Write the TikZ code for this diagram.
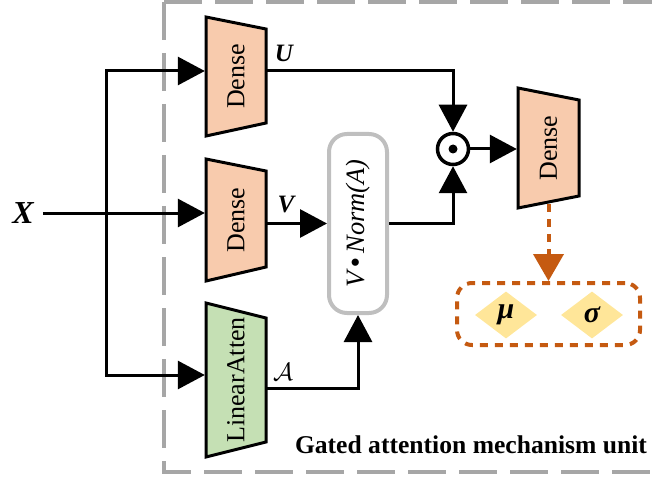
\documentclass[tikz,border=0pt]{standalone}
\usepackage{graphicx}
\usepackage{fontspec}
\setmainfont{Liberation Serif}
\usetikzlibrary{arrows.meta,shapes.geometric,calc}
\definecolor{peach}{HTML}{F8CBAD}
\definecolor{lgreen}{HTML}{C5E0B4}
\definecolor{gold}{HTML}{FFE699}
\definecolor{rust}{HTML}{C55A11}
\definecolor{dgray}{HTML}{A6A6A6}
\definecolor{lgray}{HTML}{BFBFBF}
\begin{document}
\begin{tikzpicture}[x=1pt,y=-1pt,
  conn/.style={line width=3pt, draw=black},
  arr/.style={conn, -{Triangle[length=27pt,width=28pt]}},
  trapbox/.style={line width=3pt, line join=miter, draw=black},
  txtnode/.style={inner sep=0pt, minimum width=62pt, font=\fontsize{26}{27}\selectfont},
  lbl/.style={inner sep=0pt, font=\fontsize{25}{25}\selectfont\bfseries\itshape},
  diam/.style={diamond, fill=gold, inner sep=0pt, minimum width=62pt, minimum height=47pt, aspect=1.32, font=\fontsize{30}{30}\selectfont\bfseries\itshape},
]
\clip (0,0) rectangle (652,478);
% frame
\draw[dgray, line width=4pt, dash pattern=on 38pt off 13pt] (164,2) -- (700,2);
\draw[dgray, line width=4pt, dash pattern=on 38pt off 13pt] (164,2) -- (164,472) -- (700,472);
\node[anchor=base, inner sep=0pt, font=\fontsize{25.6}{26}\selectfont\bfseries] (title) at (471,453) {Gated attention mechanism unit};

% trapezoids
\draw[trapbox, fill=peach] (206,17) -- (266,29) -- (266,123) -- (206,136) -- cycle;
\draw[trapbox, fill=peach] (206,159) -- (266,171) -- (266,267) -- (206,281) -- cycle;
\draw[trapbox, fill=lgreen] (206,303) -- (266,318) -- (266,442) -- (206,457) -- cycle;
\draw[trapbox, fill=peach] (518,88) -- (579,100) -- (579,196) -- (518,208) -- cycle;

\node[txtnode, minimum height=96pt] (d1) at (236,76.5) {\rotatebox{90}{Dense}};
\node[txtnode, minimum height=98pt] (d2) at (236,220) {\rotatebox{90}{Dense}};
\node[txtnode, minimum height=126pt] (la) at (236,380) {\rotatebox{90}{LinearAtten}};
\node[txtnode, minimum width=63pt, minimum height=98pt] (d3) at (548.5,148) {\rotatebox{90}{Dense}};

% V . Norm(A)
\node[draw=lgray, line width=4pt, rounded corners=18pt, minimum width=58pt, minimum height=179pt, inner sep=0pt,
      font=\fontsize{26.5}{27}\selectfont\itshape] (vn) at (358,223.5) {\rotatebox{90}{V\,\textbf{•}\,Norm(A)}};

% odot
\node[circle, draw=black, line width=3.5pt, minimum size=31pt, inner sep=0pt] (od) at (453,149) {};
\fill (od.center) circle (4.5pt);

% mu sigma box
\node[draw=rust, line width=4pt, dash pattern=on 8pt off 7pt, rounded corners=15pt,
      minimum width=183pt, minimum height=62pt] (ms) at (548.5,314) {};
\node[diam] (mu) at (506,315) {μ};
\node[diam] (sg) at (592,315) {σ};

% input X
\node[inner xsep=9pt, inner ysep=0pt, font=\fontsize{32}{32}\selectfont\bfseries\itshape] (X) at (23,213) {X};
\coordinate (jt) at (106,71);
\coordinate (jb) at (106,375);
\draw[arr] (jb) -- (jt) -- (d1.west |- jt);
\draw[arr] (jt) -- (jb) -- (la.west |- jb);
\draw[arr] (X.east) -- (d2.west |- X.east);

% labels
\node[lbl] (U) at (284,53) {U};
\node[lbl] (V) at (286,205) {V};
\node[inner sep=0pt] (A) at (283,372) {\scalebox{2.5}{$\mathcal{A}$}};

% connectors
\draw[arr] (d1.east |- jt) -| (od.north);
\draw[arr] (d2.east |- vn.west) -- (vn.west);
\draw[arr] (vn.east) -| (od.south);
\draw[arr] ($(la.east)+(0,8)$) -| (vn.south);
\draw[arr] (od.east) -- (d3.west |- od.east);
\draw[rust, line width=4pt, dash pattern=on 8pt off 7pt, -{Triangle[length=27pt,width=30pt,fill=rust]}, fill=none]
  ($(d3.south)+(0,7)$) -- (ms.north);
\end{tikzpicture}
\end{document}
